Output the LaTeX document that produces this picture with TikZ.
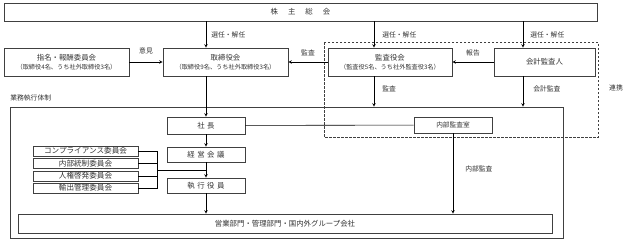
\documentclass[tikz,border=0pt]{standalone}
\usepackage{fontspec}
\setmainfont{Noto Sans CJK JP}
\newcommand{\subtxt}[1]{{\fontsize{6.2}{7.5}\selectfont #1}}
\newcommand{\kspc}{\hspace{2.5pt}}
\begin{document}
\begin{tikzpicture}[>=stealth, x=1pt, y=-1pt, line width=0.6pt,
    every node/.style={text=black!80},
    box/.style={draw=black!75, inner sep=0pt, align=center, font=\fontsize{7.4}{9.5}\selectfont},
    cbox/.style={box, minimum width=105, minimum height=10, font=\fontsize{7.6}{8}\selectfont},
    lbl/.style={inner sep=0pt, font=\fontsize{6.8}{7}\selectfont}]
    \useasboundingbox (0,0) rectangle (624,241);
    % 株主総会と取締役会まわり
    \node[box, minimum width=593, minimum height=18] (soukai) at (300.5,12)
      {株\hspace{10pt}主\hspace{10pt}総\hspace{10pt}会};
    \node[box, minimum width=125, minimum height=28] (shimei) at (66.5,62)
      {指名・報酬委員会\\\subtxt{（取締役4名、うち社外取締役3名）}};
    \node[box, minimum width=125, minimum height=28] (torishimari) at (225.5,62)
      {取締役会\\\subtxt{（取締役9名、うち社外取締役3名）}};
    \node[box, minimum width=124, minimum height=28] (kansayaku) at (390,62)
      {監査役会\\\subtxt{（監査役5名、うち社外監査役3名）}};
    \node[box, minimum width=101, minimum height=28] (kaikei) at (544.5,62) {会計監査人};
    % 連携の枠
    \draw[black!75, dash pattern=on 2.5pt off 1.5pt] (324,42) rectangle (598,137);
    \node[lbl] (renkei) at (616,88) {連携};
    % 業務執行体制
    \node[draw=black!75, inner sep=0pt, minimum width=553, minimum height=131] (gyomu) at (286.5,172.5) {};
    \node[lbl, anchor=west] (gyomulbl) at (10,98) {業務執行体制};
    \node[box, minimum width=78, minimum height=17] (shacho) at (206,125.5) {社\kspc 長};
    \node[box, minimum width=78, minimum height=15] (keiei) at (206,154.5) {経\kspc 営\kspc 会\kspc 議};
    \node[box, minimum width=78, minimum height=15] (shikko) at (206,185.5) {執\kspc 行\kspc 役\kspc 員};
    \node[box, minimum width=78, minimum height=16, font=\fontsize{6.7}{7}\selectfont] (naibu) at (453,125) {内部監査室};
    \node[box, minimum width=534, minimum height=19] (eigyo) at (285,223.5)
      {営業部門・管理部門・国内外グループ会社};
    \foreach \n/\y/\t in {iin1/151/コンプライアンス委員会, iin2/163.5/内部統制委員会,
        iin3/176/人権啓発委員会, iin4/188/輸出管理委員会}
      \node[cbox] (\n) at (85.5,\y) {\t};
    % 矢印の位置
    \coordinate (xka) at (374,0);
    \coordinate (xkk) at (523,0);
    \coordinate (jct) at (157,170);
    % 矢印
    \draw[->] (soukai.south -| shacho) -- node[lbl, right=5pt] {選任・解任} (torishimari.north -| shacho);
    \draw[->] (soukai.south -| xka) -- node[lbl, right=8pt] {選任・解任} (kansayaku.north -| xka);
    \draw[->] (soukai.south -| xkk) -- node[lbl, right=7pt] {選任・解任} (kaikei.north -| xkk);
    \draw[->] (shimei) -- node[lbl, above=8pt] {意見} (torishimari);
    \draw[->] (kansayaku) -- node[lbl, above=6pt] {監査} (torishimari);
    \draw[->] (kaikei) -- node[lbl, above=6pt] {報告} (kansayaku);
    \draw[->] (kansayaku.south -| xka) -- node[lbl, right=8pt, yshift=3pt] {監査} (gyomu.north -| xka);
    \draw[->] (kaikei.south -| xkk) -- node[lbl, right=10pt, yshift=3pt] {会計監査} (gyomu.north -| xkk);
    \draw[->] (torishimari.south -| shacho) -- (shacho.north);
    \draw[->] (shacho) -- (keiei);
    \draw[->] (keiei) -- (shikko);
    \draw[->] (shikko) -- (eigyo.north -| shikko);
    \draw (shacho) -- (naibu);
    \draw[->] (naibu) -- node[lbl, right=12pt, yshift=5pt] {内部監査} (eigyo.north -| naibu);
    % 委員会の括弧
    \foreach \n in {iin1,iin2,iin3,iin4}
      \draw (\n.east) -| (jct);
    \draw (jct) -- (jct -| shikko);
\end{tikzpicture}
\end{document}
